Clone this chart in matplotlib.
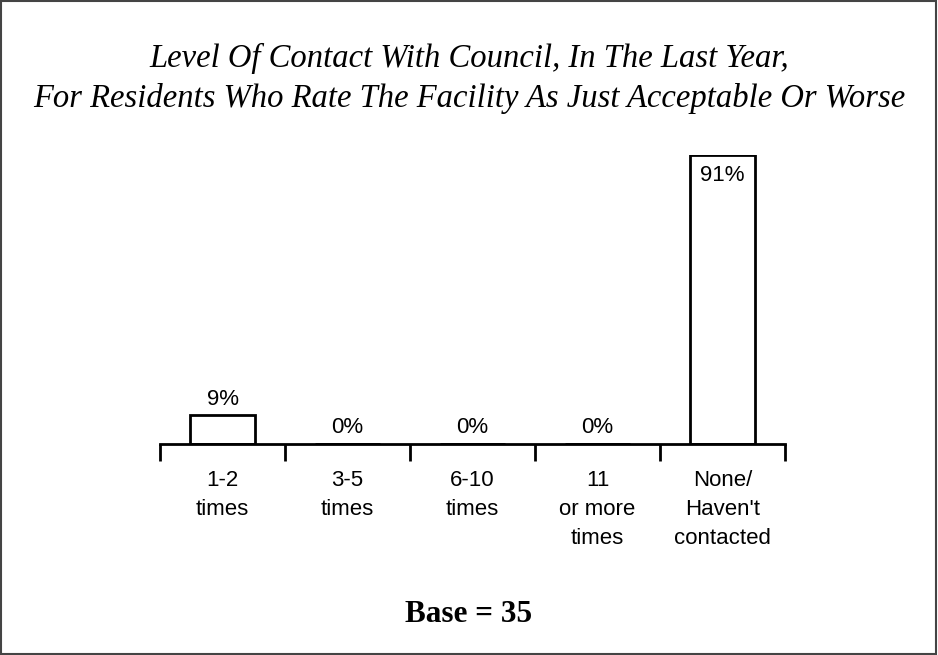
import matplotlib
matplotlib.use("Agg")
from matplotlib import pyplot as plt
from matplotlib.patches import Rectangle

categories = ["1-2\ntimes", "3-5\ntimes", "6-10\ntimes", "11\nor more\ntimes", "None/\nHaven't\ncontacted"]
percents = [9, 0, 0, 0, 91]
base_n = 35

fig = plt.figure(figsize=(9.38, 6.55), dpi=100)
# frame round the whole chart
fig.patches.append(Rectangle((0.001, 0.001), 0.997, 0.997, transform=fig.transFigure,
                             fill=False, edgecolor="#444444", linewidth=1.5))

ax = fig.add_axes([160 / 938, 211 / 655, 625 / 938, 289 / 655])
xs = list(range(len(categories)))
ax.bar(xs, percents, width=0.52, color="white", edgecolor="black", linewidth=2)
ax.set_xlim(-0.5, len(categories) - 0.5)
ax.set_ylim(0, 91)

for x, p in zip(xs, percents):
    if p > 50:
        ax.annotate(f"{p}%", (x, p), xytext=(0, -7.5), textcoords="offset points",
                    ha="center", va="top", fontsize=16, family="Liberation Sans")
    else:
        ax.annotate(f"{p}%", (x, p), xytext=(0, 4), textcoords="offset points",
                    ha="center", va="bottom", fontsize=16, family="Liberation Sans")

for s in ["top", "right", "left"]:
    ax.spines[s].set_visible(False)
ax.spines["bottom"].set_linewidth(2)
ax.set_yticks([])
ax.set_xticks([i - 0.5 for i in range(len(categories) + 1)])
ax.set_xticklabels([])
ax.tick_params(axis="x", direction="out", length=12, width=2)

for x, lab in zip(xs, categories):
    ax.annotate(lab, (x, 0), xytext=(0, -18.5), textcoords="offset points",
                ha="center", va="top", fontsize=16, family="Liberation Sans",
                linespacing=1.5)

fig.text(0.5, 0.88, "Level Of Contact With Council, In The Last Year,\n"
         "For Residents Who Rate The Facility As Just Acceptable Or Worse",
         ha="center", va="center", fontsize=23.5, style="italic",
         family="Liberation Serif", linespacing=1.35)

fig.text(0.5, 0.062, f"Base = {base_n}", ha="center", va="center",
         fontsize=22.5, weight="bold", family="Liberation Serif")

fig.savefig("out.png", dpi=100)
